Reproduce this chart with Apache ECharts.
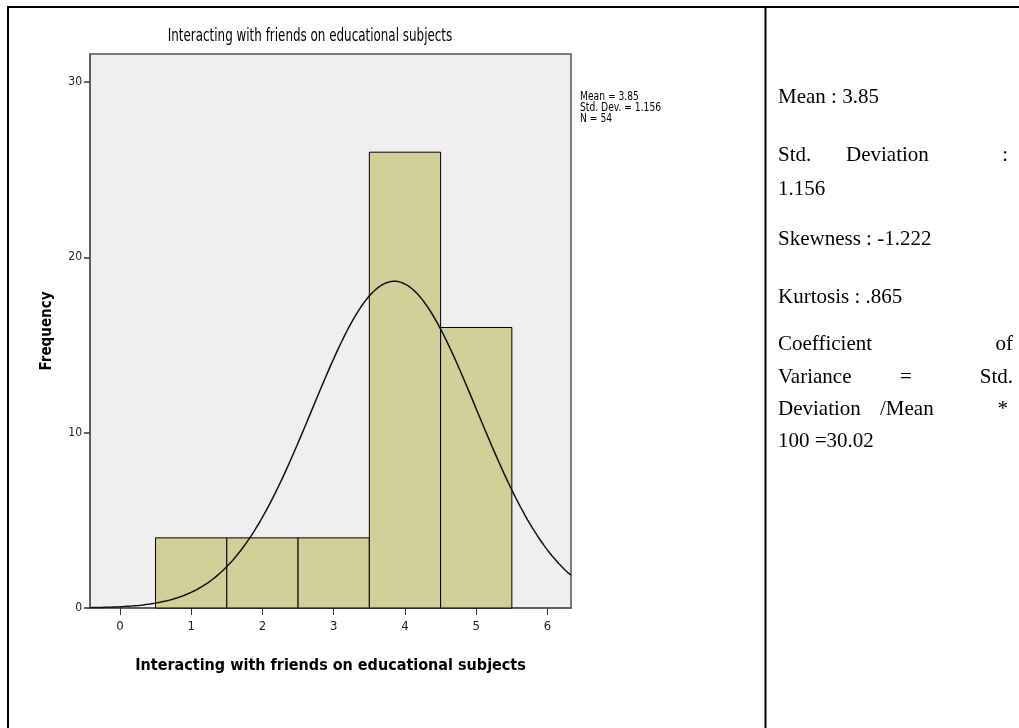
<!DOCTYPE html>
<html>
<head>
<meta charset="utf-8">
<script src="https://cdn.jsdelivr.net/npm/echarts@6/dist/echarts.min.js"></script>
<style>
  html, body { margin: 0; padding: 0; background: #ffffff; }
  #chart { width: 1019px; height: 728px; }
</style>
</head>
<body>
<div id="chart"></div>
<script>
// Histogram of responses (bin edges and frequencies)
const binStarts = [0.5, 1.5, 2.5, 3.5, 4.5];
const binWidth = 1;
const frequencies = [4, 4, 4, 26, 16];

// Descriptive statistics reported for the variable
const mean = 3.85;
const stdDev = 1.156;
const n = 54;

// Axis tick labels
const xTicks = [0, 1, 2, 3, 4, 5, 6];
const yTicks = [0, 10, 20, 30];

const chartTitle = 'Interacting with friends on educational subjects';
const xAxisTitle = 'Interacting with friends on educational subjects';
const yAxisTitle = 'Frequency';
const statLines = ['Mean = 3.85', 'Std. Dev. = 1.156', 'N = 54'];

const X_MIN = -0.42, X_MAX = 6.33, Y_MAX = 31.6;

// Fitted normal curve scaled to the histogram (N * bin width * density)
const curve = [];
for (let i = 0; i <= 200; i++) {
  const x = X_MIN + (X_MAX - X_MIN) * i / 200;
  const z = (x - mean) / stdDev;
  const y = n * binWidth * Math.exp(-0.5 * z * z) / (stdDev * Math.sqrt(2 * Math.PI));
  curve.push([x, y]);
}

const bars = binStarts.map((s, i) => [s, s + binWidth, frequencies[i]]);

const spssFont = '"Liberation Sans Narrow", "DejaVu Sans Condensed", "Liberation Sans", sans-serif';
const docFont = '"Liberation Serif", "DejaVu Serif", serif';

const chart = echarts.init(document.getElementById('chart'));

const G = { left: 90, top: 54, right: 1019 - 571, bottom: 728 - 608 };

// Document text in the right-hand cell
const docText = [
  { t: 'Mean : 3.85', x: 778, y: 97 },
  { t: 'Std.', x: 778, y: 155 },
  { t: 'Deviation', x: 846, y: 155 },
  { t: ':', x: 1008, y: 155, align: 'right' },
  { t: '1.156', x: 778, y: 189 },
  { t: 'Skewness : -1.222', x: 778, y: 239 },
  { t: 'Kurtosis : .865', x: 778, y: 297 },
  { t: 'Coefficient', x: 778, y: 344 },
  { t: 'of', x: 1013, y: 344, align: 'right' },
  { t: 'Variance', x: 778, y: 377 },
  { t: '=', x: 900, y: 377 },
  { t: 'Std.', x: 1013, y: 377, align: 'right' },
  { t: 'Deviation', x: 778, y: 409 },
  { t: '/Mean', x: 880, y: 409 },
  { t: '*', x: 1008, y: 409, align: 'right' },
  { t: '100 =30.02', x: 778, y: 441 }
];

const graphics = [
  // table borders
  { type: 'line', shape: { x1: 8, y1: 6, x2: 8, y2: 728 }, style: { stroke: '#000', lineWidth: 2 } },
  { type: 'line', shape: { x1: 7, y1: 7, x2: 1019, y2: 7 }, style: { stroke: '#000', lineWidth: 2 } },
  { type: 'line', shape: { x1: 765.5, y1: 7, x2: 765.5, y2: 728 }, style: { stroke: '#000', lineWidth: 2 } },
  // chart title
  { type: 'text', x: 310, y: 37, scaleX: 0.78, originX: 0, originY: 0,
    style: { text: chartTitle, font: '17px ' + spssFont, fill: '#000', textAlign: 'center', textVerticalAlign: 'middle' } },
  // statistics block
  { type: 'text', x: 580, y: 91, scaleX: 0.85, originX: 0, originY: 0,
    style: { text: statLines.join('\n'), font: '12px ' + spssFont, fill: '#000', lineHeight: 11, textVerticalAlign: 'top' } }
];
docText.forEach(d => graphics.push({
  type: 'text', x: d.x, y: d.y,
  style: { text: d.t, font: '21px ' + docFont, fill: '#000', textAlign: d.align || 'left', textVerticalAlign: 'middle' }
}));

chart.setOption({
  animation: false,
  backgroundColor: '#ffffff',
  grid: { left: G.left, top: G.top, right: G.right, bottom: G.bottom, show: true,
    backgroundColor: '#efefef', borderColor: '#555555', borderWidth: 1.5 },
  xAxis: {
    type: 'value', min: X_MIN, max: X_MAX,
    name: xAxisTitle, nameLocation: 'middle', nameGap: 50,
    nameTextStyle: { fontFamily: spssFont, fontWeight: 'bold', fontSize: 16, color: '#000' },
    splitLine: { show: false },
    axisLine: { show: true, onZero: false, lineStyle: { color: '#555555', width: 1.5 } },
    axisTick: { show: true, length: 7, customValues: xTicks, lineStyle: { color: '#333', width: 1 } },
    axisLabel: { customValues: xTicks, fontFamily: spssFont, fontSize: 13, color: '#222', margin: 12 }
  },
  yAxis: {
    type: 'value', min: 0, max: Y_MAX,
    name: yAxisTitle, nameLocation: 'middle', nameGap: 35, nameRotate: 90,
    nameTextStyle: { fontFamily: spssFont, fontWeight: 'bold', fontSize: 15, color: '#000' },
    splitLine: { show: false },
    axisLine: { show: true, onZero: false, lineStyle: { color: '#555555', width: 1.5 } },
    axisTick: { show: true, length: 6, customValues: yTicks, lineStyle: { color: '#333', width: 1.5 } },
    axisLabel: { customValues: yTicks, fontFamily: spssFont, fontSize: 12, color: '#222', margin: 8 }
  },
  series: [
    {
      type: 'custom',
      data: bars,
      encode: { x: [0, 1], y: 2 },
      renderItem: function (params, api) {
        const p0 = api.coord([api.value(0), api.value(2)]);
        const p1 = api.coord([api.value(1), 0]);
        return {
          type: 'rect',
          shape: { x: p0[0], y: p0[1], width: p1[0] - p0[0], height: p1[1] - p0[1] },
          style: { fill: '#d3cf99', stroke: '#000', lineWidth: 1 }
        };
      },
      z: 2
    },
    {
      type: 'line',
      data: curve,
      showSymbol: false,
      smooth: false,
      lineStyle: { color: '#111', width: 1.5 },
      z: 3
    }
  ],
  graphic: graphics
});
</script>
</body>
</html>
